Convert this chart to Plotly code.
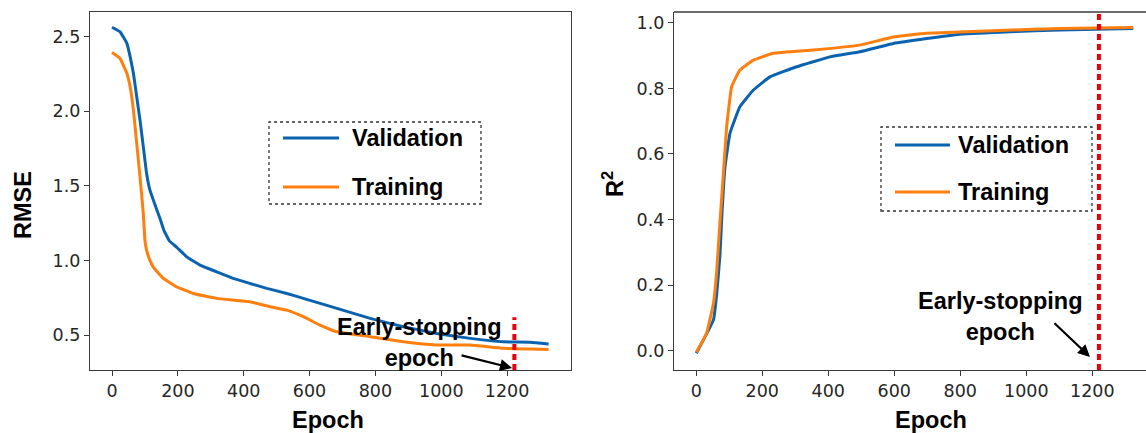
import plotly.graph_objects as go

# ---- data -------------------------------------------------------------
rmse_val_epoch = [0, 24, 45, 55, 65, 75, 85, 95, 105, 115, 136, 146, 158, 175, 196,
                  227, 267, 318, 368, 419, 470, 531, 581, 683, 784, 885, 986, 1088,
                  1189, 1270, 1326]
rmse_val = [2.563, 2.533, 2.456, 2.366, 2.255, 2.098, 1.942, 1.763, 1.585, 1.473,
            1.34, 1.28, 1.20, 1.13, 1.09, 1.024, 0.969, 0.924, 0.88, 0.846, 0.813,
            0.779, 0.746, 0.679, 0.612, 0.556, 0.511, 0.478, 0.455, 0.452, 0.44]

rmse_train_epoch = [0, 24, 45, 55, 65, 75, 85, 95, 100, 105, 115, 125, 156, 196, 247,
                    318, 419, 480, 531, 581, 632, 683, 784, 885, 986, 1088, 1189, 1326]
rmse_train = [2.393, 2.355, 2.255, 2.165, 2.009, 1.786, 1.562, 1.317, 1.136, 1.069,
              1.002, 0.957, 0.88, 0.824, 0.779, 0.746, 0.723, 0.69, 0.667, 0.623,
              0.567, 0.522, 0.489, 0.455, 0.433, 0.433, 0.411, 0.404]

r2_val_epoch = [0, 52, 62, 72, 77, 87, 102, 132, 173, 223, 304, 405, 496, 597, 698,
                799, 951, 1102, 1324]
r2_val = [-0.008, 0.094, 0.175, 0.297, 0.405, 0.561, 0.663, 0.744, 0.795, 0.835,
          0.866, 0.896, 0.912, 0.937, 0.952, 0.965, 0.973, 0.978, 0.983]

r2_train_epoch = [0, 31, 52, 62, 72, 80, 92, 107, 132, 173, 233, 355, 496, 597, 698,
                  900, 1102, 1324]
r2_train = [-0.005, 0.053, 0.145, 0.246, 0.398, 0.51, 0.683, 0.805, 0.856, 0.886,
            0.907, 0.917, 0.932, 0.957, 0.968, 0.976, 0.983, 0.986]

early_stop_epoch = 1222
series_names = ["Validation", "Training"]
x_ticks = [0, 200, 400, 600, 800, 1000, 1200]

# ---- style ------------------------------------------------------------
W, H = 1146, 433
BLUE = "#0b63b0"
ORANGE = "#ff7f0e"
RED = "#e8000b"
AXC = "#3a3a3a"
TICK_FONT = dict(family="DejaVu Sans", size=17.5, color="#262626")
BOLD = dict(family="Liberation Sans", size=23.5, color="black", weight="bold")


def px(x):
    return x / W


def py(y):
    return 1 - y / H


fig = go.Figure()

# curves
for xs, ys, color, xa, ya in [
    (rmse_val_epoch, rmse_val, BLUE, "x", "y"),
    (rmse_train_epoch, rmse_train, ORANGE, "x", "y"),
    (r2_val_epoch, r2_val, BLUE, "x2", "y2"),
    (r2_train_epoch, r2_train, ORANGE, "x2", "y2"),
]:
    fig.add_trace(go.Scatter(x=xs, y=ys, mode="lines",
                             line=dict(color=color, width=3, shape="spline",
                                       smoothing=0.3),
                             showlegend=False, xaxis=xa, yaxis=ya))

axis_common = dict(showgrid=False, zeroline=False, showline=True, linecolor=AXC,
                   linewidth=1.3, ticks="outside", ticklen=5, tickwidth=1.2,
                   tickcolor=AXC, tickfont=TICK_FONT)

fig.update_layout(
    width=W, height=H,
    margin=dict(l=0, r=0, t=0, b=0),
    paper_bgcolor="white", plot_bgcolor="white",
    xaxis=dict(domain=[px(90), px(571)], range=[-66.8, 1394], anchor="y",
               tickvals=x_ticks, mirror=True, **axis_common),
    yaxis=dict(domain=[py(370), py(12)], range=[0.266, 2.665], anchor="x",
               tickvals=[0.5, 1.0, 1.5, 2.0, 2.5], tickformat=".1f", mirror=True,
               **axis_common),
    xaxis2=dict(domain=[px(674), 1.0], range=[-67.6, 1362.7], anchor="y2",
                tickvals=x_ticks, **axis_common),
    yaxis2=dict(domain=[py(370), py(12)], range=[-0.059, 1.033], anchor="x2",
                tickvals=[0.0, 0.2, 0.4, 0.6, 0.8, 1.0], tickformat=".1f",
                **axis_common),
)

shapes = []
# top border of the right panel (its right edge runs off the canvas)
shapes.append(dict(type="line", xref="paper", yref="paper", x0=px(674), x1=1.0,
                   y0=py(12), y1=py(12), line=dict(color=AXC, width=1.3)))

# early-stopping markers
shapes.append(dict(type="line", xref="x", yref="y", x0=early_stop_epoch,
                   x1=early_stop_epoch, y0=0.266, y1=0.62,
                   line=dict(color=RED, width=4, dash="6px,4px")))
shapes.append(dict(type="line", xref="x2", yref="y2 domain", x0=1220, x1=1220,
                   y0=0, y1=1, line=dict(color=RED, width=4, dash="6px,4px")))

annotations = []


def label(text, x, y, **kw):
    d = dict(text=text, xref="paper", yref="paper", x=px(x), y=py(y),
             xanchor="center", yanchor="middle", showarrow=False, font=BOLD)
    d.update(kw)
    annotations.append(d)


def legend_box(x0, x1, y0, y1, line_x0, line_x1, text_x, rows):
    shapes.append(dict(type="rect", xref="paper", yref="paper",
                       x0=px(x0), x1=px(x1), y0=py(y1), y1=py(y0),
                       line=dict(color="#333333", width=1.3, dash="dot"),
                       fillcolor="white", layer="above"))
    for (name, color, yy) in rows:
        shapes.append(dict(type="line", xref="paper", yref="paper",
                           x0=px(line_x0), x1=px(line_x1), y0=py(yy), y1=py(yy),
                           line=dict(color=color, width=3), layer="above"))
        label(name, text_x, yy, xanchor="left")


legend_box(269, 481, 122, 204, 283, 339, 350,
           [(series_names[0], BLUE, 138), (series_names[1], ORANGE, 187)])
legend_box(881, 1092, 127, 211, 895, 950, 956,
           [(series_names[0], BLUE, 145), (series_names[1], ORANGE, 192)])

# axis titles
label("RMSE", 23, 205, textangle=-90)
label("R<sup>2</sup>", 613, 184, textangle=-90)
label("Epoch", 328, 420)
label("Epoch", 931, 420)

# early-stopping labels and arrows
label("Early-stopping<br>epoch", 419, 342, align="center")
label("Early-stopping<br>epoch", 1000, 316, align="center")
annotations += [
    dict(text="", xref="x", yref="y", x=1215, y=0.279, ax=-52, ay=-13,
         showarrow=True, arrowhead=2, arrowsize=1.1, arrowwidth=2.2,
         arrowcolor="black"),
    dict(text="", xref="x2", yref="y2", x=1193, y=-0.019, ax=-37, ay=-35,
         showarrow=True, arrowhead=2, arrowsize=1.1, arrowwidth=2.2,
         arrowcolor="black"),
]

fig.update_layout(shapes=shapes, annotations=annotations)
fig.write_html("out.html")
